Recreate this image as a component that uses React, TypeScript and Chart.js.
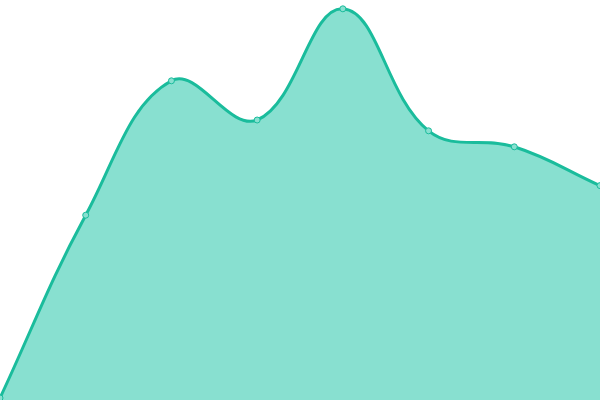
import { useEffect, useRef } from "react";
import { Chart, registerables } from "chart.js";

Chart.register(...registerables);

const labels = ["1", "2", "3", "4", "5", "6", "7", "8"];
const values = [0.5, 46.2, 79.8, 70, 97.8, 67.3, 63.3, 53.6];

export default function App() {
  const chartRef = useRef<HTMLCanvasElement>(null);
  const chartInstance = useRef<Chart | null>(null);

  useEffect(() => {
    if (!chartRef.current) return;
    if (chartInstance.current) {
      chartInstance.current.destroy();
    }

    chartInstance.current = new Chart(chartRef.current, {
      type: "line",
      data: {
        labels,
        datasets: [
          {
            data: values,
            fill: "origin",
            backgroundColor: "#88e0d0",
            borderColor: "#1abc9c",
            borderWidth: 3,
            tension: 0.4,
            pointRadius: 3,
            pointBorderWidth: 1,
            pointBackgroundColor: "#88e0d0",
            pointBorderColor: "#1abc9c",
          },
        ],
      },
      options: {
        animation: false,
        responsive: true,
        maintainAspectRatio: false,
        layout: { padding: 0, autoPadding: false },
        plugins: {
          legend: { display: false },
          tooltip: { enabled: false },
        },
        scales: {
          x: { display: false },
          y: { display: false, min: 0, max: 100 },
        },
      },
    });

    return () => {
      if (chartInstance.current) {
        chartInstance.current.destroy();
        chartInstance.current = null;
      }
    };
  }, []);

  return (
    <div
      style={{
        position: "fixed",
        top: 0,
        left: 0,
        width: "600px",
        height: "400px",
        background: "#fff",
      }}
    >
      <canvas ref={chartRef} />
    </div>
  );
}
